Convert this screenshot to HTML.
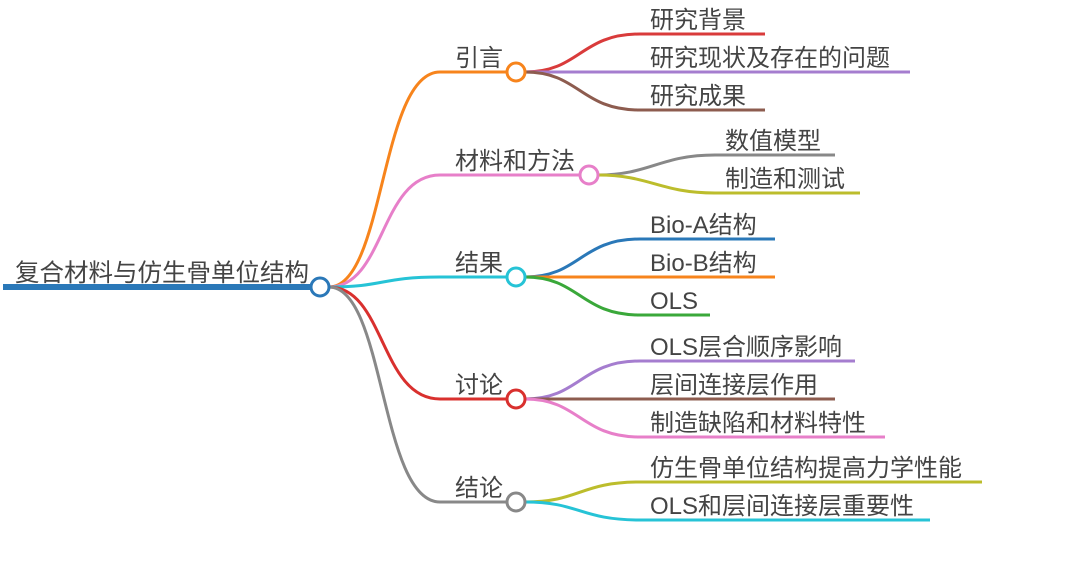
<!DOCTYPE html><html><head><meta charset="utf-8"><style>body{margin:0;background:#fff}svg text{font-family:"Liberation Sans","Noto Sans CJK SC",sans-serif;font-size:24px;fill:#444}</style></head><body>
<svg width="1080" height="569" xmlns="http://www.w3.org/2000/svg" fill="none" stroke-width="3">
<line x1="3" y1="287" x2="312" y2="287" stroke="#2a78b8" stroke-width="6"/>
<text x="15" y="281" style="font-size:24.5px">复合材料与仿生骨单位结构</text>
<path d="M329 287 C385 287 380 72 440 72 L507 72" stroke="#f7841c"/>
<path d="M329 287 C385 287 380 175 440 175 L580 175" stroke="#e77fc9"/>
<path d="M329 287 C385 287 380 277 440 277 L507 277" stroke="#26c3d6"/>
<path d="M329 287 C385 287 380 399 440 399 L507 399" stroke="#d9302e"/>
<path d="M329 287 C385 287 380 502 440 502 L507 502" stroke="#888"/>
<text x="455" y="66">引言</text>
<text x="455" y="169">材料和方法</text>
<text x="455" y="271">结果</text>
<text x="455" y="393">讨论</text>
<text x="455" y="496">结论</text>
<path d="M525 72 C580 72 580 34 640 34 L765 34" stroke="#d93b3b"/>
<path d="M525 72 L910 72" stroke="#a57dcf"/>
<path d="M525 72 C580 72 580 110 640 110 L765 110" stroke="#8d5c4f"/>
<text x="650" y="28">研究背景</text>
<text x="650" y="66">研究现状及存在的问题</text>
<text x="650" y="104">研究成果</text>
<path d="M598 175 C650 175 660 155 715 155 L835 155" stroke="#888"/>
<path d="M598 175 C650 175 660 193 715 193 L860 193" stroke="#bcbd2c"/>
<text x="725" y="149">数值模型</text>
<text x="725" y="187">制造和测试</text>
<path d="M525 277 C580 277 580 239 640 239 L775 239" stroke="#2a78b8"/>
<path d="M525 277 L775 277" stroke="#f7841c"/>
<path d="M525 277 C580 277 580 315 640 315 L710 315" stroke="#3aa83a"/>
<text x="650" y="233">Bio-A结构</text>
<text x="650" y="271">Bio-B结构</text>
<text x="650" y="309">OLS</text>
<path d="M525 399 C580 399 580 361 640 361 L855 361" stroke="#a57dcf"/>
<path d="M525 399 L835 399" stroke="#8d5c4f"/>
<path d="M525 399 C580 399 580 437 640 437 L885 437" stroke="#e77fc9"/>
<text x="650" y="355">OLS层合顺序影响</text>
<text x="650" y="393">层间连接层作用</text>
<text x="650" y="431">制造缺陷和材料特性</text>
<path d="M525 502 C580 502 580 482 640 482 L982 482" stroke="#bcbd2c"/>
<path d="M525 502 C580 502 580 520 640 520 L930 520" stroke="#26c3d6"/>
<text x="650" y="476">仿生骨单位结构提高力学性能</text>
<text x="650" y="514">OLS和层间连接层重要性</text>
<circle cx="320" cy="287" r="9" fill="#fff" stroke="#2a78b8"/>
<circle cx="516" cy="72" r="9" fill="#fff" stroke="#f7841c"/>
<circle cx="589" cy="175" r="9" fill="#fff" stroke="#e77fc9"/>
<circle cx="516" cy="277" r="9" fill="#fff" stroke="#26c3d6"/>
<circle cx="516" cy="399" r="9" fill="#fff" stroke="#d9302e"/>
<circle cx="516" cy="502" r="9" fill="#fff" stroke="#888"/>
</svg></body></html>
